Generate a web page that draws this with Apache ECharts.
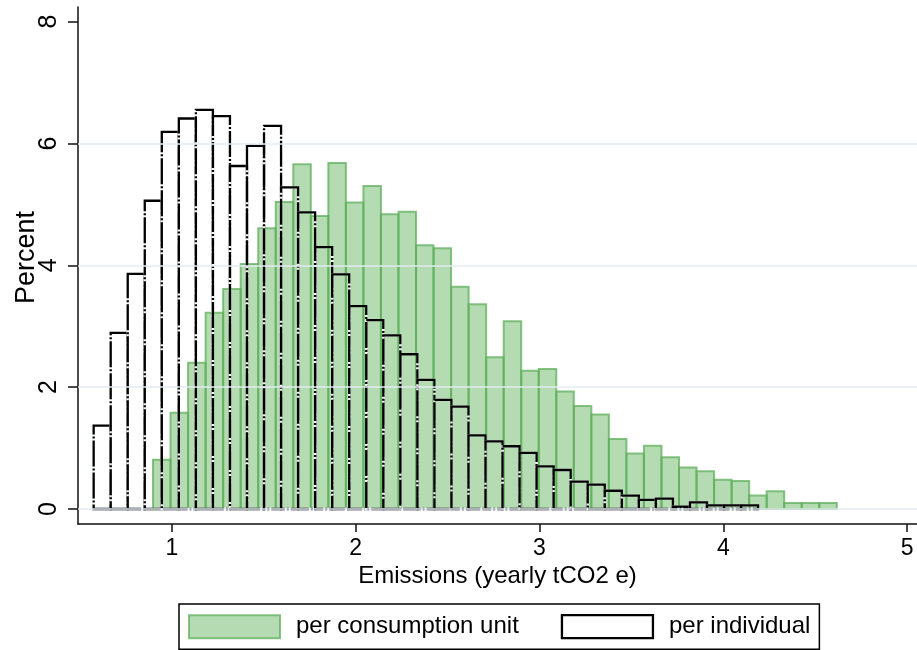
<!DOCTYPE html>
<html>
<head>
<meta charset="utf-8">
<script src="https://cdn.jsdelivr.net/npm/echarts@6/dist/echarts.min.js"></script>
<style>
html,body{margin:0;padding:0;background:#fff;}
#chart{width:917px;height:650px;}
</style>
</head>
<body>
<div id="chart"></div>
<script>
// Histogram of yearly emissions: first bin edge, bin width and percent in each bin
const consumptionBinStart = 0.897;
const consumptionBinWidth = 0.0954;
const consumptionPercent = [0.81, 1.58, 2.40, 3.22, 3.61, 4.02, 4.61, 5.04, 5.66, 4.81,
  5.68, 5.03, 5.30, 4.84, 4.88, 4.33, 4.28, 3.65, 3.36, 2.49,
  3.08, 2.27, 2.30, 1.93, 1.69, 1.55, 1.15, 0.91, 1.04, 0.85,
  0.68, 0.62, 0.48, 0.46, 0.22, 0.29, 0.10, 0.10, 0.10];

const individualBinStart = 0.574;
const individualBinWidth = 0.0927;
const individualPercent = [1.37, 2.89, 3.86, 5.06, 6.19, 6.41, 6.55, 6.45, 5.63, 5.96,
  6.29, 5.28, 4.87, 4.30, 3.85, 3.33, 3.10, 2.85, 2.54, 2.12,
  1.79, 1.68, 1.21, 1.11, 1.03, 0.92, 0.70, 0.64, 0.45, 0.40,
  0.30, 0.22, 0.15, 0.17, 0.04, 0.11, 0.06, 0.06, 0.06];

const seriesNames = ['per consumption unit', 'per individual'];
const xTicks = [1, 2, 3, 4, 5];
const yTicks = [0, 2, 4, 6, 8];
const yGridLines = [0, 2, 4, 6];

const FONT = '"Liberation Sans", Arial, Helvetica, sans-serif';
const GREEN_FILL = 'rgba(100, 180, 95, 0.48)';
const GREEN_EDGE = 'rgba(95, 175, 92, 0.75)';

function toBins(start, width, values) {
  return values.map((v, i) => [start + i * width, start + (i + 1) * width, v]);
}

function binRect(api) {
  const top = api.coord([api.value(0), api.value(2)]);
  const bottom = api.coord([api.value(1), 0]);
  return { x: top[0], y: top[1], width: bottom[0] - top[0], height: bottom[1] - top[1] };
}

function renderFilled(params, api) {
  return {
    type: 'rect',
    shape: binRect(api),
    style: { fill: GREEN_FILL, stroke: GREEN_EDGE, lineWidth: 2 }
  };
}

// Outline bars: a pale stroke underneath so the gaps of the dashed black edge read as light
function renderOutline(params, api) {
  const shape = binRect(api);
  return {
    type: 'group',
    children: [
      { type: 'rect', shape: shape, style: { fill: 'none', stroke: '#f2f6f7', lineWidth: 2.3 } },
      { type: 'rect', shape: shape, style: { fill: 'none', stroke: '#000', lineWidth: 2.3, lineDash: [26, 2, 2, 2] } }
    ]
  };
}

const chart = echarts.init(document.getElementById('chart'), null, { renderer: 'canvas' });

chart.setOption({
  animation: false,
  backgroundColor: '#fff',
  textStyle: { fontFamily: FONT },
  grid: { left: 78, right: 0, top: 7, bottom: 126, containLabel: false, outerBoundsMode: 'none' },
  xAxis: {
    type: 'value',
    min: 0.4888,
    max: 5.054,
    name: 'Emissions (yearly tCO2 e)',
    nameLocation: 'middle',
    nameGap: 40,
    nameMoveOverlap: false,
    nameTextStyle: { fontFamily: FONT, fontSize: 24, color: '#000' },
    axisLine: { onZero: false, lineStyle: { color: '#111', width: 1.5 } },
    axisTick: { customValues: xTicks, length: 8, lineStyle: { color: '#111', width: 1.5 } },
    axisLabel: { customValues: xTicks, fontFamily: FONT, fontSize: 23, color: '#000', margin: 13 },
    splitLine: { show: false }
  },
  yAxis: {
    type: 'value',
    min: -0.246,
    max: 8.24,
    name: 'Percent',
    nameLocation: 'middle',
    nameGap: 38,
    nameRotate: 90,
    nameMoveOverlap: false,
    nameTextStyle: { fontFamily: FONT, fontSize: 27, color: '#000', padding: [0, 0, 0, 16] },
    axisLine: { onZero: false, lineStyle: { color: '#111', width: 1.5 } },
    axisTick: { customValues: yTicks, length: 10, lineStyle: { color: '#111', width: 1.5 } },
    axisLabel: { customValues: yTicks, rotate: 90, fontFamily: FONT, fontSize: 25, color: '#000', margin: 16 },
    splitLine: { show: false }
  },
  legend: {
    left: 179,
    top: 604,
    padding: [10, 9, 10, 9],
    itemWidth: 91,
    itemHeight: 23,
    itemGap: 42,
    icon: 'rect',
    borderColor: '#000',
    borderWidth: 1.5,
    selectedMode: false,
    textStyle: { fontFamily: FONT, fontSize: 24, color: '#000', padding: [0, 0, 0, 11] },
    data: [
      { name: seriesNames[0], itemStyle: { color: GREEN_FILL, borderColor: GREEN_EDGE, borderWidth: 2 } },
      { name: seriesNames[1], itemStyle: { color: '#fff', borderColor: '#000', borderWidth: 2.3 } }
    ]
  },
  series: [
    {
      name: 'grid',
      type: 'line',
      data: [],
      z: 1,
      silent: true,
      markLine: {
        silent: true,
        symbol: 'none',
        label: { show: false },
        lineStyle: { color: '#e3ebf0', width: 1.5, type: 'solid' },
        data: yGridLines.map(v => ({ yAxis: v }))
      }
    },
    {
      name: seriesNames[0],
      type: 'custom',
      z: 2,
      renderItem: renderFilled,
      encode: { x: [0, 1], y: 2 },
      data: toBins(consumptionBinStart, consumptionBinWidth, consumptionPercent)
    },
    {
      name: seriesNames[1],
      type: 'custom',
      z: 3,
      renderItem: renderOutline,
      encode: { x: [0, 1], y: 2 },
      data: toBins(individualBinStart, individualBinWidth, individualPercent)
    }
  ]
});
</script>
</body>
</html>
